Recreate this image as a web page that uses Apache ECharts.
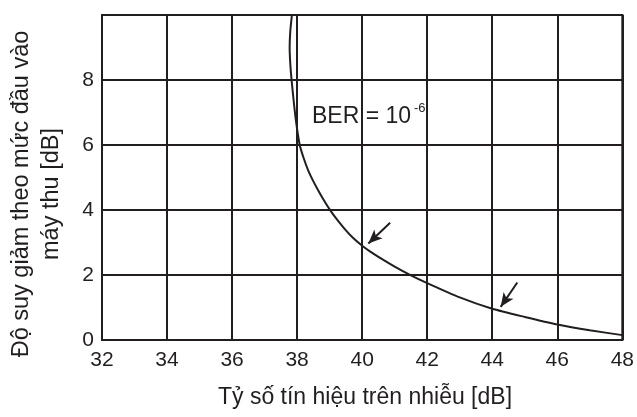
<!DOCTYPE html>
<html>
<head>
<meta charset="utf-8">
<script src="https://cdn.jsdelivr.net/npm/echarts@6/dist/echarts.min.js"></script>
<style>html,body{margin:0;padding:0;background:#fff}#c{width:637px;height:417px}</style>
</head>
<body>
<div id="c"></div>
<script>
// Data
const snrX = [37.84, 37.79, 37.77, 37.79, 37.83, 37.90, 37.97, 38.08, 38.2, 38.34, 38.5, 38.65, 38.8, 39.0, 39.2, 39.46, 39.7, 40.0, 40.25, 40.5, 41.0, 41.5, 42.0, 43.0, 44.0, 45.0, 46.0, 47.0, 48.0];
const attY = [10.0, 9.5, 9.0, 8.5, 8.0, 7.3, 6.7, 6.0, 5.6, 5.22, 4.88, 4.6, 4.34, 4.02, 3.74, 3.42, 3.16, 2.9, 2.72, 2.56, 2.26, 1.99, 1.75, 1.31, 0.96, 0.71, 0.48, 0.30, 0.15];
const arrowTail = [[40.86, 3.61], [44.77, 1.77]];
const arrowHead = [[40.19, 2.97], [44.26, 1.02]];
const xTicks = [32, 34, 36, 38, 40, 42, 44, 46, 48];
const yTicks = [0, 2, 4, 6, 8];
const xName = 'Tỷ số tín hiệu trên nhiễu [dB]';
const yName = 'Độ suy giảm theo mức đầu vào\nmáy thu [dB]';
const berText = 'BER = 10';
const berExp = '-6';

const INK = '#221e1f';
const FONT = '"Liberation Sans", Arial, sans-serif';

const chart = echarts.init(document.getElementById('c'), null, {renderer: 'canvas'});
const curve = snrX.map((x, i) => [x, attY[i]]);
const arrows = arrowTail.map((t, i) => [{coord: t}, {coord: arrowHead[i]}]);

chart.setOption({
  animation: false,
  backgroundColor: '#fff',
  grid: {left: 102, right: 10, top: 15, bottom: 77, show: true, borderColor: INK, borderWidth: 2},
  xAxis: {
    type: 'value', min: xTicks[0], max: xTicks[xTicks.length - 1], interval: 2,
    axisLine: {show: true, lineStyle: {color: INK, width: 2}},
    axisTick: {show: false},
    splitLine: {show: true, lineStyle: {color: INK, width: 2}},
    axisLabel: {color: INK, fontSize: 21, fontFamily: FONT, margin: 10,
      formatter: v => xTicks.includes(v) ? String(v) : ''}
  },
  yAxis: {
    type: 'value', min: 0, max: 10, interval: 2,
    axisLine: {show: true, lineStyle: {color: INK, width: 2}},
    axisTick: {show: false},
    splitLine: {show: true, lineStyle: {color: INK, width: 2}},
    axisLabel: {color: INK, fontSize: 21, fontFamily: FONT, margin: 8,
      formatter: v => yTicks.includes(v) ? String(v) : ''}
  },
  series: [{
    type: 'line', data: curve, smooth: 0.2, showSymbol: false, silent: true,
    lineStyle: {color: INK, width: 2},
    markLine: {
      silent: true, symbol: ['none', 'arrow'], symbolSize: [9, 14],
      label: {show: false},
      lineStyle: {color: INK, width: 2, type: 'solid'},
      data: arrows
    }
  }],
  graphic: [
    {type: 'text', x: 312, y: 117,
      style: {text: berText, font: '23px ' + FONT, fill: INK, verticalAlign: 'middle'}},
    {type: 'text', x: 414, y: 108,
      style: {text: berExp, font: '13px ' + FONT, fill: INK, verticalAlign: 'middle'}},
    {type: 'text', x: 365, y: 398,
      style: {text: xName, font: '23px ' + FONT, fill: INK, align: 'center', verticalAlign: 'middle'}},
    {type: 'text', x: 37, y: 194, rotation: Math.PI / 2,
      style: {text: yName, font: '23.5px ' + FONT, fill: INK, align: 'center', verticalAlign: 'middle', lineHeight: 30}}
  ]
});
</script>
</body>
</html>
